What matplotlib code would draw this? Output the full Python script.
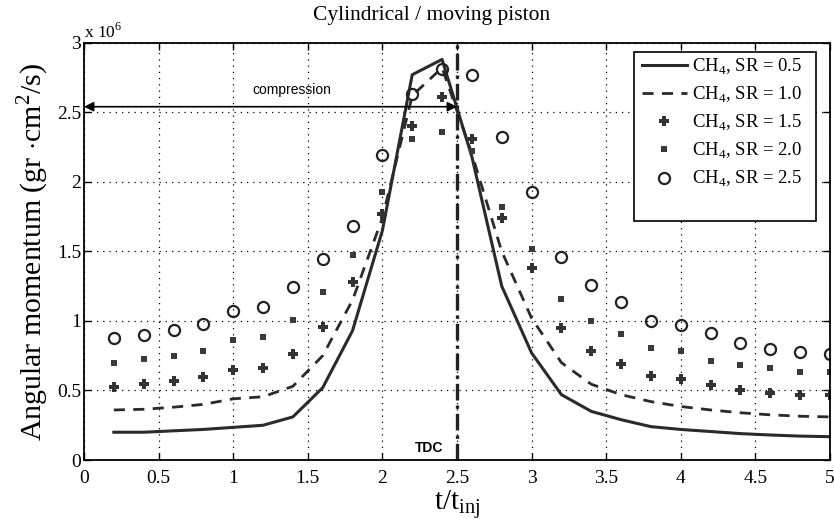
import matplotlib
matplotlib.use("Agg")
import matplotlib.pyplot as plt
from matplotlib.lines import Line2D
from matplotlib.patches import Rectangle

# t/t_inj sample points
t = [0.2, 0.4, 0.6, 0.8, 1.0, 1.2, 1.4, 1.6, 1.8, 2.0, 2.2, 2.4, 2.6,
     2.8, 3.0, 3.2, 3.4, 3.6, 3.8, 4.0, 4.2, 4.4, 4.6, 4.8, 5.0]

# angular momentum, units of 1e6 gr cm^2/s
sr05 = [0.20, 0.20, 0.21, 0.22, 0.235, 0.25, 0.31, 0.52, 0.93, 1.65, 2.77, 2.88, 2.18,
        1.25, 0.77, 0.47, 0.35, 0.29, 0.24, 0.22, 0.205, 0.19, 0.18, 0.172, 0.168]
sr10 = [0.36, 0.365, 0.38, 0.40, 0.44, 0.455, 0.53, 0.75, 1.15, 1.74, 2.62, 2.82, 2.20,
        1.50, 1.02, 0.70, 0.545, 0.47, 0.42, 0.385, 0.36, 0.34, 0.325, 0.315, 0.31]
sr15 = [0.525, 0.545, 0.57, 0.595, 0.65, 0.665, 0.765, 0.96, 1.28, 1.77, 2.40, 2.61, 2.31,
        1.74, 1.38, 0.95, 0.785, 0.69, 0.605, 0.585, 0.54, 0.505, 0.485, 0.465, 0.465]
sr20 = [0.70, 0.725, 0.75, 0.785, 0.865, 0.885, 1.01, 1.205, 1.475, 1.925, 2.31, 2.355, 2.22,
        1.82, 1.515, 1.155, 1.00, 0.905, 0.805, 0.785, 0.71, 0.685, 0.66, 0.635, 0.63]
sr25 = [0.88, 0.90, 0.935, 0.975, 1.07, 1.10, 1.245, 1.445, 1.685, 2.19, 2.63, 2.81, 2.77,
        2.32, 1.925, 1.46, 1.26, 1.135, 1.00, 0.97, 0.91, 0.84, 0.80, 0.775, 0.76]

xticks = [0, 0.5, 1, 1.5, 2, 2.5, 3, 3.5, 4, 4.5, 5]
xticklabels = ['0', '0.5', '1', '1.5', '2', '2.5', '3', '3.5', '4', '4.5', '5']
yticks = [0, 0.5, 1, 1.5, 2, 2.5, 3]
yticklabels = ['0', '0.5', '1', '1.5', '2', '2.5', '3']

tdc = 2.5
arrow_y = 2.54

serif = 'Liberation Serif'
sans = 'Liberation Sans'
plt.rcParams['mathtext.fontset'] = 'custom'
plt.rcParams['mathtext.rm'] = serif

fig = plt.figure(figsize=(8.34, 5.21), dpi=100)
ax = fig.add_axes([0.1007, 0.117, 0.8945, 0.801])

ax.plot(t, sr05, '-', color='#2a2a2a', lw=2.2)
ax.plot(t, sr10, '--', color='#2a2a2a', lw=2.0, dashes=(4, 3))
ax.plot(t, sr15, 'P', color='#333333', ms=6.5, mew=0)
ax.plot(t, sr20, 's', color='#3a3a3a', ms=5, mew=0)
ax.plot(t, sr25, 'o', mfc='none', mec='#222222', ms=8, mew=1.6)

# TDC line
ax.axvline(tdc, color='#222222', lw=2.4, ls=(0, (5, 1.5, 1, 1.5)))
ax.text(2.31, 0.09, 'TDC', family=sans, fontweight='bold', fontsize=10,
        ha='center', va='center')

# compression arrow
ax.annotate('', xy=(0, arrow_y), xytext=(tdc, arrow_y),
            arrowprops=dict(arrowstyle='<|-|>', color='black', lw=1.2,
                            mutation_scale=14, shrinkA=0, shrinkB=0))
ax.text(1.39, 2.66, 'compression', family=sans, fontsize=10,
        ha='center', va='center')

ax.set_xlim(0, 5)
ax.set_ylim(0, 3)
ax.set_xticks(xticks)
ax.set_xticklabels(xticklabels, family=serif, fontsize=14)
ax.set_yticks(yticks)
ax.set_yticklabels(yticklabels, family=serif, fontsize=14)
ax.tick_params(direction='in', length=5, width=1, top=True, right=True)
ax.tick_params(axis='x', pad=7)
ax.tick_params(axis='y', pad=2)
ax.grid(True, ls=(0, (1, 4)), color='black', lw=0.9)
for s in ax.spines.values():
    s.set_linewidth(1.3)

ax.text(0.0, 3.036, 'x 10$^6$', family=serif, fontsize=12.5, ha='left', va='baseline')
ax.text(2.33, 3.163, 'Cylindrical / moving piston', family=serif, fontsize=15.5,
        ha='center', va='baseline')
ax.set_xlabel('t/t$_{\\mathregular{inj}}$', family=serif, fontsize=21, labelpad=1)
ax.set_ylabel('Angular momentum (gr $\\cdot$cm$^2$/s)', family=serif, fontsize=21.5,
              labelpad=4)

# legend box (taller than the entries, as in the original)
ax.add_patch(Rectangle((0.737, 0.573), 0.244, 0.405, transform=ax.transAxes,
                       facecolor='white', edgecolor='black', lw=1.2, zorder=4.5))
handles = [
    Line2D([], [], ls='-', color='#2a2a2a', lw=2.2),
    Line2D([], [], ls='--', color='#2a2a2a', lw=2.0, dashes=(4, 3)),
    Line2D([], [], ls='none', marker='P', color='#333333', ms=6.5, mew=0),
    Line2D([], [], ls='none', marker='s', color='#3a3a3a', ms=5, mew=0),
    Line2D([], [], ls='none', marker='o', mfc='none', mec='#222222', ms=8, mew=1.6),
]
labels = ['CH$_4$, SR = 0.5', 'CH$_4$, SR = 1.0', 'CH$_4$, SR = 1.5',
          'CH$_4$, SR = 2.0', 'CH$_4$, SR = 2.5']
leg = ax.legend(handles, labels, loc='upper left', bbox_to_anchor=(0.7476, 0.967),
                borderaxespad=0, borderpad=0, frameon=False,
                prop={'family': serif, 'size': 13.5}, handlelength=2.4,
                handletextpad=0.3, labelspacing=0.42)
leg.set_zorder(5)

fig.savefig('out.png', dpi=100, facecolor='white')
